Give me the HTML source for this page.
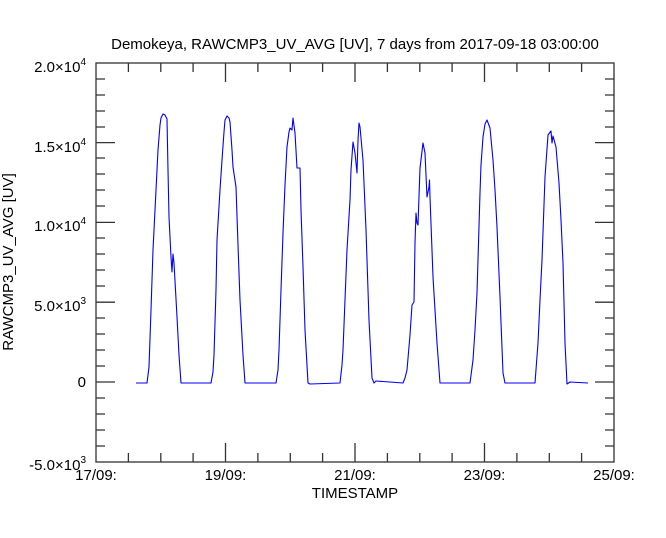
<!DOCTYPE html>
<html><head><meta charset="utf-8"><style>
body{margin:0;background:#fff}
svg text{font-family:"Liberation Sans",sans-serif;fill:#000}
</style></head><body>
<svg width="666" height="533" viewBox="0 0 666 533" xmlns="http://www.w3.org/2000/svg">
<rect width="666" height="533" fill="#fff"/>
<text x="355" y="49" font-size="15" text-anchor="middle">Demokeya, RAWCMP3_UV_AVG [UV], 7 days from  2017-09-18 03:00:00</text>
<g stroke="#333" stroke-width="1.3" fill="none">
<rect x="96" y="63" width="518" height="399"/>
<path d="M96 382h19M96 302.2h19M96 222.4h19M96 142.6h19M614 382h-19M614 302.2h-19M614 222.4h-19M614 142.6h-19"/>
<path d="M96 446h9M96 430h9M96 414h9M96 398h9M96 366h9M96 350h9M96 334h9M96 318h9M96 286h9M96 270h9M96 254h9M96 238h9M96 206h9M96 190h9M96 174h9M96 158h9M96 127h9M96 111h9M96 95h9M96 79h9"/>
<path d="M614 446h-9M614 430h-9M614 414h-9M614 398h-9M614 366h-9M614 350h-9M614 334h-9M614 318h-9M614 286h-9M614 270h-9M614 254h-9M614 238h-9M614 206h-9M614 190h-9M614 174h-9M614 158h-9M614 127h-9M614 111h-9M614 95h-9M614 79h-9"/>
<path d="M225.5 462v-19M355 462v-19M484.5 462v-19M225.5 63v19M355 63v19M484.5 63v19"/>
<path d="M128.4 462v-9M160.8 462v-9M193.1 462v-9M257.9 462v-9M290.3 462v-9M322.6 462v-9M387.4 462v-9M419.8 462v-9M452.1 462v-9M516.9 462v-9M549.3 462v-9M581.6 462v-9"/>
<path d="M128.4 63v9M160.8 63v9M193.1 63v9M257.9 63v9M290.3 63v9M322.6 63v9M387.4 63v9M419.8 63v9M452.1 63v9M516.9 63v9M549.3 63v9M581.6 63v9"/>
</g>
<g font-size="15" text-anchor="end">
<text x="86" y="72">2.0×10<tspan dy="-7" font-size="10">4</tspan></text>
<text x="86" y="152">1.5×10<tspan dy="-7" font-size="10">4</tspan></text>
<text x="86" y="231">1.0×10<tspan dy="-7" font-size="10">4</tspan></text>
<text x="86" y="311">5.0×10<tspan dy="-7" font-size="10">3</tspan></text>
<text x="86" y="387">0</text>
<text x="86" y="470">-5.0×10<tspan dy="-7" font-size="10">3</tspan></text>
</g>
<g font-size="15" text-anchor="middle">
<text x="96" y="480">17/09:</text>
<text x="225.5" y="480">19/09:</text>
<text x="355" y="480">21/09:</text>
<text x="484.5" y="480">23/09:</text>
<text x="614" y="480">25/09:</text>
<text x="355" y="498">TIMESTAMP</text>
</g>
<text transform="translate(13,262) rotate(-90)" font-size="15" text-anchor="middle">RAWCMP3_UV_AVG [UV]</text>
<polyline fill="none" stroke="#0000ff" stroke-width="1.1" stroke-linejoin="round" points="136,383 147,383 149,367 151,310 153,250 156,190 158,150 160,125 161,118 163,114 165,115 167,119 168,170 169,217 171,257 172,272 173,254 174,263 177,317 179,355 181,383 211,383 213,372 214,355 216,290 217,240 220,190 222,160 224,132 225,120 227,116 229,118 230,122 232,150 233,167 236,187 238,245 240,300 243,355 245,383 276,383 278,370 279,350 281,290 283,233 285,185 287,147 289,132 290,128 292,130 293,118 295,133 297,168 300,168 301,210 303,267 305,330 308,383 310,384 340,383 342,365 343,350 345,300 347,250 350,200 351,170 353,142 355,153 357,173 358,140 359,123 360,127 363,160 366,230 369,320 372,378 374,383 376,381 403,383 405,378 407,370 410,335 412,305 414,302 415,243 416,213 417,223 418,225 420,168 423,143 425,153 427,197 429,187 429.5,180 430,197 433,277 437,343 440,383 470,383 473,360 475,330 477,293 480,193 481,165 483,137 485,124 487,120 490,128 493,160 495,190 497,227 500,297 503,373 505,383 535,383 538,343 540,300 542,260 545,177 548,135 551,131 552,143 553,136 556,147 559,183 561,220 563,263 565,343 567,384 570,382 588,383"/>
</svg>
</body></html>
